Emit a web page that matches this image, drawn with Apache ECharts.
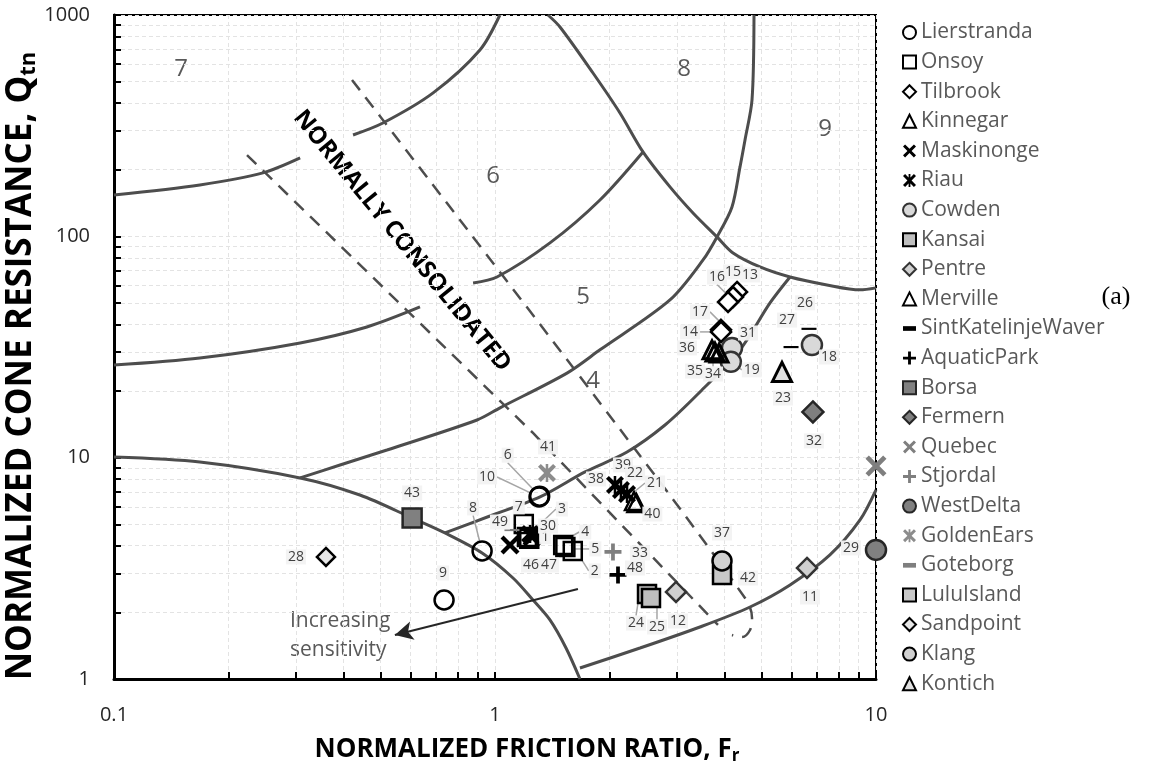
<!DOCTYPE html>
<html><head><meta charset="utf-8">
<script src="https://cdn.jsdelivr.net/npm/echarts@6/dist/echarts.min.js"></script>
<style>html,body{margin:0;padding:0;background:#fff}#c{width:1165px;height:780px}</style>
</head><body><div id="c"></div>
<script>
// ---- tick values ----
const xTickValues = [0.1,0.2,0.3,0.4,0.5,0.6,0.7,0.8,0.9,1,2,3,4,5,6,7,8,9,10];
const yTickValues = [1,2,3,4,5,6,7,8,9,10,20,30,40,50,60,70,80,90,100,200,300,400,500,600,700,800,900,1000];
const xLabelValues = [0.1,1,10];
const yLabelValues = [1,10,100,1000];

// ---- zone boundaries [Fr, Qtn] ----
const zone1Boundary = [[0.1,10.07],[0.168,9.56],[0.308,8.1],[0.442,6.78],[0.606,5.34],[0.739,4.57],[0.925,3.71],[1.115,2.86],[1.258,2.275],[1.394,1.848],[1.536,1.38],[1.671,1]];
const zone2Boundary = [[1.671,1.121],[2.402,1.38],[3.451,1.718],[4.671,2.115],[5.948,2.66],[7.57,3.634],[9.08,5.23],[10,7.15]];
const zone34Boundary = [[0.739,4.57],[0.970,5.45],[1.313,6.645],[1.723,8.62],[2.221,10.6],[2.794,14.05],[3.451,19.8],[4.396,30.7],[5.27,50.0],[5.948,65.5]];
const zone45Boundary = [[0.308,8.1],[0.392,9.27],[0.5205,10.83],[0.897,14.8],[1.031,16.8],[1.545,24.1],[1.886,30.7],[2.879,51.6],[3.516,78.2],[3.825,99.4],[4.188,135.8],[4.396,205.9],[4.531,272.7],[4.727,413.5],[4.784,1000]];
const zone56BoundaryLeft = [[0.1,26.2],[0.168,28.2],[0.308,33.0],[0.461,38.96],[0.6355,47.97]];
const zone56BoundaryRight = [[0.876,61.56],[1.012,65.5],[1.394,93.4],[1.886,146],[2.446,240.6]];
const zone67BoundaryLeft = [[0.1,153.8],[0.168,170.7],[0.246,193.5],[0.308,226]];
const zone67BoundaryRight = [[0.424,287],[0.508,325],[0.688,444.6],[0.913,695],[1.03,1000]];
const zone8Boundary = [[1.377,1000],[1.481,883],[1.808,547],[2.128,361],[2.446,240.6],[2.879,167.2],[3.309,127.5],[3.825,99.4],[4.215,84.1],[4.961,72.7],[5.948,65.5],[7.436,60.3],[9.08,57.3],[10,58.5]];
const ncLowerDashed = [[0.2234,233],[1.258,12.93],[3.848,1.754]];
const ncUpperDashed = [[0.4214,509],[1.886,17.67],[4.531,2.323],[4.727,1.886],[4.671,1.665],[4.449,1.548],[4.188,1.58]];
const sensitivityArrow = [[1.651,2.55],[0.546,1.58]];

// ---- site data [Fr, Qtn, label] ----
const lierstranda = [[0.925,3.79,'8'],[0.735,2.275,'9'],[1.305,6.645,'10'],[1.31,6.7,'6']];
const onsoy = [[1.19,5.02,'7'],[1.213,4.38,'3'],[1.23,4.3,'1'],[1.51,4.03,'4'],[1.53,3.95,'5'],[1.60,3.79,'2']];
const tilbrook = [[4.318,56.1,'13'],[4.215,53.2,'15'],[4.089,50.5,'16'],[3.919,37.8,'17'],[3.92,37.0,'14']];
const kinnegar = [[2.317,6.37,'21'],[2.35,6.24,'40']];
const maskinonge = [[1.095,4.03,'46'],[1.251,4.38,'47']];
const riau = [[1.236,4.52,'30'],[2.065,7.53,'38'],[2.141,7.15,'39'],[2.221,6.85,'22']];
const cowden = [[4.188,31.3,'31'],[4.16,27.1,'19'],[6.79,32.3,'18']];
const kansai = [[2.506,2.42,'24'],[2.567,2.323,'25']];
const pentre = [[2.986,2.473,'12'],[6.59,3.174,'11']];
const merville = [[3.712,30.7,'36'],[3.779,30.0,'35'],[3.873,29.7,'34']];
const sintKatelinjeWaver = [[6.67,38.2,'26'],[5.984,31.6,'27']];
const aquaticPark = [[2.103,2.951,'48']];
const borsa = [[0.606,5.34,'43']];
const fermern = [[6.83,16.09,'32']];
const quebec = [[10,9.17,'']];
const stjordal = [[2.04,3.75,'33']];
const westDelta = [[10,3.83,'29']];
const goldenEars = [[1.369,8.53,'41']];
const goteborg = [[1.108,4.71,'49']];
const luluIsland = [[3.943,2.95,'42']];
const sandpoint = [[0.36,3.56,'28']];
const klang = [[3.943,3.414,'37']];
const kontich = [[5.666,24.4,'23']];

// ---- label placement (pixel offsets from marker) ----
const labelOffset = {'8':[-9,-43],'9':[-1,-27],'10':[-52,-20],'6':[-32,-41],'41':[1,-26],'7':[-5,-17],'49':[-12,-8],
 '3':[35,-28],'30':[18,-8],'1':[16,-2],'46':[21,20],'47':[17,28],'4':[22,-13],'5':[30,2],'2':[22,20],'33':[27,1],'48':[17,-7],
 '38':[-19,-6],'39':[2,-25],'22':[8,-21],'21':[21,-18],'40':[16,11],'24':[-11,29],'25':[6,29],'12':[2,29],
 '13':[13,-17],'15':[0,-25],'16':[-11,-25],'17':[-21,-18],'14':[-31,0],'36':[-25,-2],'35':[-20,19],'34':[-6,21],
 '31':[16,-15],'19':[21,8],'26':[-4,-26],'27':[-4,-27],'18':[17,12],'23':[1,26],'32':[1,29],'28':[-30,0],'29':[-25,-2],
 '11':[3,29],'37':[0,-28],'42':[26,3]};
const leaderIds = ['8','10','6','3','1','4','5','2','21','40','16','17','14','34','19','24','25','38','30'];

const X_PATH = 'path://M0,1.6L1.6,0L5,3.4L8.4,0L10,1.6L6.6,5L10,8.4L8.4,10L5,6.6L1.6,10L0,8.4L3.4,5Z';
const AST_PATH = 'path://M0,1.6L1.6,0L5,3.4L8.4,0L10,1.6L6.6,5L10,8.4L8.4,10L5,6.6L1.6,10L0,8.4L3.4,5ZM4.3,0H5.7V10H4.3Z';
const PLUS_PATH = 'path://M3.9,0H6.1V3.9H10V6.1H6.1V10H3.9V6.1H0V3.9H3.9Z';
const DASH_PATH = 'path://M0,0H10V3.6H0Z';
const NONE = 'rgba(255,255,255,0)';

const sites = [
 {name:'Lierstranda', data:lierstranda, symbol:'circle', size:19, fill:NONE, border:'#000', bw:2.5},
 {name:'Onsoy', data:onsoy, symbol:'rect', size:18, fill:NONE, border:'#000', bw:2.5},
 {name:'Tilbrook', data:tilbrook, symbol:'diamond', size:20, fill:'#fff', border:'#000', bw:2.5},
 {name:'Kinnegar', data:kinnegar, symbol:'triangle', size:18, fill:NONE, border:'#000', bw:2.5},
 {name:'Maskinonge', data:maskinonge, symbol:X_PATH, size:19, fill:'#000', border:'#000', bw:0},
 {name:'Riau', data:riau, symbol:AST_PATH, size:18, fill:'#000', border:'#000', bw:0},
 {name:'Cowden', data:cowden, symbol:'circle', size:20, fill:'#d9d9d9', border:'#333', bw:2.5},
 {name:'Kansai', data:kansai, symbol:'rect', size:18, fill:'#bfbfbf', border:'#000', bw:2.5},
 {name:'Pentre', data:pentre, symbol:'diamond', size:20, fill:'#d0d0d0', border:'#333', bw:2.5},
 {name:'Merville', data:merville, symbol:'triangle', size:18, fill:NONE, border:'#000', bw:3},
 {name:'SintKatelinjeWaver', data:sintKatelinjeWaver, symbol:DASH_PATH, size:[15,6], fill:'#000', border:'#000', bw:0},
 {name:'AquaticPark', data:aquaticPark, symbol:PLUS_PATH, size:17, fill:'#000', border:'#000', bw:0},
 {name:'Borsa', data:borsa, symbol:'rect', size:19, fill:'#808080', border:'#262626', bw:2.5},
 {name:'Fermern', data:fermern, symbol:'diamond', size:21, fill:'#7f7f7f', border:'#262626', bw:2.5},
 {name:'Quebec', data:quebec, symbol:X_PATH, size:21, fill:'#7f7f7f', border:'#7f7f7f', bw:0},
 {name:'Stjordal', data:stjordal, symbol:PLUS_PATH, size:17, fill:'#7f7f7f', border:'#7f7f7f', bw:0},
 {name:'WestDelta', data:westDelta, symbol:'circle', size:20, fill:'#808080', border:'#262626', bw:2.5},
 {name:'GoldenEars', data:goldenEars, symbol:AST_PATH, size:18, fill:'#8c8c8c', border:'#8c8c8c', bw:0},
 {name:'Goteborg', data:goteborg, symbol:DASH_PATH, size:[15,6], fill:'#7f7f7f', border:'#7f7f7f', bw:0},
 {name:'LuluIsland', data:luluIsland, symbol:'rect', size:18, fill:'#c8c8c8', border:'#000', bw:2.5},
 {name:'Sandpoint', data:sandpoint, symbol:'diamond', size:18, fill:'#e6e6e6', border:'#000', bw:2.5},
 {name:'Klang', data:klang, symbol:'circle', size:19, fill:'#d0d0d0', border:'#000', bw:2.5},
 {name:'Kontich', data:kontich, symbol:'triangle', size:19, fill:'#e0e0e0', border:'#000', bw:3}
];

const FONT = '"Open Sans", "DejaVu Sans", sans-serif';
const curveStyle = {color:'#4d4d4d', width:3};
const dashStyle = {color:'#4d4d4d', width:2.5, type:[13,9]};

function curve(data, style, extra) {
  return Object.assign({type:'line', data:data, symbol:'none', showSymbol:false, smooth:0.3, silent:true,
    lineStyle:style, z:2, animation:false, legendHoverLink:false}, extra || {});
}

const series = [
  curve(zone1Boundary, curveStyle),
  curve(zone2Boundary, curveStyle),
  curve(zone34Boundary, curveStyle),
  curve(zone45Boundary, curveStyle),
  curve(zone56BoundaryLeft, curveStyle),
  curve(zone56BoundaryRight, curveStyle),
  curve(zone67BoundaryLeft, curveStyle),
  curve(zone67BoundaryRight, curveStyle),
  curve(zone8Boundary, curveStyle),
  curve(ncLowerDashed, dashStyle, {smooth:false}),
  curve(ncUpperDashed, dashStyle, {smooth:0.35}),
  curve([], curveStyle, {markLine:{silent:true, animation:false, symbol:['none','arrow'], symbolSize:[14,18],
     label:{show:false}, lineStyle:{color:'#262626', width:2, type:'solid'},
     data:[[{coord:sensitivityArrow[0]},{coord:sensitivityArrow[1]}]]}})
];

sites.forEach(function(s){
  series.push({
    type:'scatter', name:s.name, symbol:s.symbol, symbolSize:s.size, symbolKeepAspect:true,
    data:s.data.map(function(p){ return {value:[p[0],p[1]], labelLine:{show: leaderIds.indexOf(p[2])>=0}}; }),
    itemStyle:{color:s.fill, borderColor:s.border, borderWidth:s.bw, opacity:1},
    label:{show:true, position:'inside', formatter:function(pr){ return s.data[pr.dataIndex][2]; },
      color:'#404040', fontSize:14, fontFamily:FONT, backgroundColor:'rgba(242,242,242,0.95)', padding:[1,2,0,2]},
    labelLayout:function(pr){ const id = s.data[pr.dataIndex][2]; const o = labelOffset[id] || [0,-25]; return {dx:o[0], dy:o[1]}; },
    labelLine:{lineStyle:{color:'#a6a6a6', width:1.5}},
    emphasis:{disabled:true}, z:5, animation:false, clip:false
  });
});

const chart = echarts.init(document.getElementById('c'), null, {renderer:'canvas'});
chart.setOption({
  backgroundColor:'#fff',
  animation:false,
  grid:{left:114, top:15, width:762, height:664, show:true, borderColor:'#000', borderWidth:2, backgroundColor:'transparent'},
  xAxis:{type:'log', logBase:10, min:0.1, max:10,
    axisLine:{show:true, onZero:false, lineStyle:{color:'#000', width:3}},
    axisTick:{show:true, inside:true, length:7, customValues:xTickValues, lineStyle:{color:'#000', width:2}},
    axisLabel:{customValues:xLabelValues, fontSize:20, color:'#262626', margin:26, fontFamily:FONT, formatter:function(v){ return String(v); }},
    splitLine:{show:true, lineStyle:{color:'#e3e3e3', width:1, type:[4,3]}}},
  yAxis:{type:'log', logBase:10, min:1, max:1000,
    axisLine:{show:true, onZero:false, lineStyle:{color:'#000', width:3}},
    axisTick:{show:true, inside:true, length:7, customValues:yTickValues, lineStyle:{color:'#000', width:2}},
    axisLabel:{customValues:yLabelValues, fontSize:20, color:'#262626', margin:24, fontFamily:FONT, formatter:function(v){ return String(v); }},
    splitLine:{show:true, lineStyle:{color:'#e3e3e3', width:1, type:[4,3]}}},
  legend:{orient:'vertical', left:897, top:17, itemWidth:13, itemHeight:13, itemGap:8.6, selectedMode:false,
    textStyle:{fontSize:21, color:'#595959', fontFamily:FONT, lineHeight:21},
    data:sites.map(function(s){ return s.name; })},
  series:series,
  graphic:[
    {type:'text', x:181, y:69, style:{text:'7', fill:'#595959', font:'24px '+FONT, textAlign:'center', textVerticalAlign:'middle'}},
    {type:'text', x:684, y:69, style:{text:'8', fill:'#595959', font:'24px '+FONT, textAlign:'center', textVerticalAlign:'middle'}},
    {type:'text', x:825, y:129, style:{text:'9', fill:'#595959', font:'24px '+FONT, textAlign:'center', textVerticalAlign:'middle'}},
    {type:'text', x:493, y:176, style:{text:'6', fill:'#595959', font:'24px '+FONT, textAlign:'center', textVerticalAlign:'middle'}},
    {type:'text', x:583, y:297, style:{text:'5', fill:'#595959', font:'24px '+FONT, textAlign:'center', textVerticalAlign:'middle'}},
    {type:'text', x:593, y:381, style:{text:'4', fill:'#595959', font:'24px '+FONT, textAlign:'center', textVerticalAlign:'middle'}},
    {type:'text', x:402, y:241, rotation:-50.8*Math.PI/180, style:{text:'NORMALLY CONSOLIDATED', fill:'#000', font:'bold 24px '+FONT, textAlign:'center', textVerticalAlign:'middle'}},
    {type:'text', x:290, y:621, style:{text:'Increasing', fill:'#595959', font:'21px '+FONT, textAlign:'left', textVerticalAlign:'middle'}},
    {type:'text', x:290, y:650, style:{text:'sensitivity', fill:'#595959', font:'21px '+FONT, textAlign:'left', textVerticalAlign:'middle'}},
    {type:'text', x:1116, y:297, style:{text:'(a)', fill:'#000', font:'26px "Liberation Serif", "Times New Roman", serif', textAlign:'center', textVerticalAlign:'middle'}},
    {type:'text', x:527, y:750, style:{text:'{t|NORMALIZED FRICTION RATIO, F}{s|r}', textAlign:'center', textVerticalAlign:'middle',
       rich:{t:{font:'bold 26px '+FONT, fill:'#000'}, s:{font:'bold 17px '+FONT, fill:'#000', padding:[13,0,0,0]}}}},
    {type:'text', x:21, y:366, rotation:Math.PI/2, style:{text:'{t|NORMALIZED CONE RESISTANCE, Q}{s|tn}', textAlign:'center', textVerticalAlign:'middle',
       rich:{t:{font:'bold 35px '+FONT, fill:'#000'}, s:{font:'bold 22px '+FONT, fill:'#000', padding:[16,0,0,0]}}}}
  ]
});
</script></body></html>
